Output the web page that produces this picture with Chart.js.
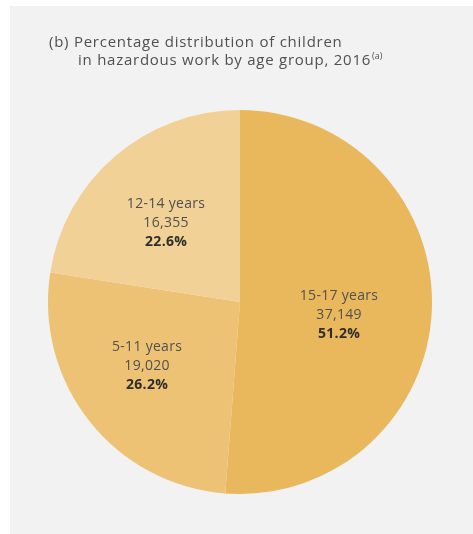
<!DOCTYPE html>
<html>
<head>
<meta charset="utf-8">
<script src="https://cdn.jsdelivr.net/npm/chart.js@4"></script>
<style>
  html, body { margin: 0; padding: 0; background: #ffffff; }
  #wrap { position: relative; width: 473px; height: 534px; }
  canvas { display: block; }
</style>
</head>
<body>
<div id="wrap"><canvas id="c" width="473" height="534"></canvas></div>
<script>
// ---- data ----
const categories = ['15-17 years', '5-11 years', '12-14 years'];
const counts = [37149, 19020, 16355];
const percentLabels = ['51.2%', '26.2%', '22.6%'];
const countLabels = ['37,149', '19,020', '16,355'];
const titleLines = ['(b) Percentage distribution of children', 'in hazardous work by age group, 2016'];
const titleNote = '(a)';

// ---- styles ----
const sliceColors = ['#E9B85C', '#EDC275', '#F1D196'];
// label centre offsets relative to pie centre, in units of radius
const labelOffsets = [[0.516, 0.068], [-0.484, 0.333], [-0.385, -0.41]];
const FONT = '"Open Sans", "DejaVu Sans", sans-serif';

const backgroundPlugin = {
  id: 'panelBg',
  beforeDraw(chart) {
    const ctx = chart.ctx;
    ctx.save();
    ctx.fillStyle = '#ffffff';
    ctx.fillRect(0, 0, chart.width, chart.height);
    ctx.fillStyle = '#F2F2F2';
    ctx.fillRect(10, 6, chart.width - 10, chart.height - 6);
    // title
    ctx.fillStyle = '#505050';
    ctx.font = '15px ' + FONT;
    ctx.letterSpacing = '0.75px';
    ctx.textBaseline = 'alphabetic';
    ctx.textAlign = 'left';
    ctx.fillText(titleLines[0], 49, 47);
    ctx.fillText(titleLines[1], 78, 65);
    const w = ctx.measureText(titleLines[1]).width;
    ctx.font = '9px ' + FONT;
    ctx.letterSpacing = '0px';
    ctx.fillText(titleNote, 78 + w + 1, 59);
    ctx.restore();
  }
};

const labelPlugin = {
  id: 'sliceLabels',
  afterDatasetsDraw(chart) {
    const ctx = chart.ctx;
    const meta = chart.getDatasetMeta(0);
    meta.data.forEach((arc, i) => {
      const r = arc.outerRadius;
      const cx = arc.x + labelOffsets[i][0] * r;
      const cy = arc.y + labelOffsets[i][1] * r;
      ctx.save();
      ctx.textAlign = 'center';
      ctx.textBaseline = 'middle';
      ctx.letterSpacing = '0.3px';
      ctx.fillStyle = '#505050';
      ctx.font = '14px ' + FONT;
      ctx.fillText(chart.data.labels[i], cx, cy - 19);
      ctx.fillText(countLabels[i], cx, cy);
      ctx.fillStyle = '#2e2e2e';
      ctx.font = 'bold 14px ' + FONT;
      ctx.fillText(percentLabels[i], cx, cy + 19);
      ctx.restore();
    });
  }
};

new Chart(document.getElementById('c'), {
  type: 'pie',
  data: {
    labels: categories,
    datasets: [{
      data: counts,
      backgroundColor: sliceColors,
      borderWidth: 0
    }]
  },
  options: {
    responsive: false,
    animation: false,
    layout: { padding: { left: 48, right: 41, top: 110, bottom: 40 } },
    plugins: {
      legend: { display: false },
      title: { display: false },
      tooltip: { enabled: false }
    }
  },
  plugins: [backgroundPlugin, labelPlugin]
});
</script>
</body>
</html>
